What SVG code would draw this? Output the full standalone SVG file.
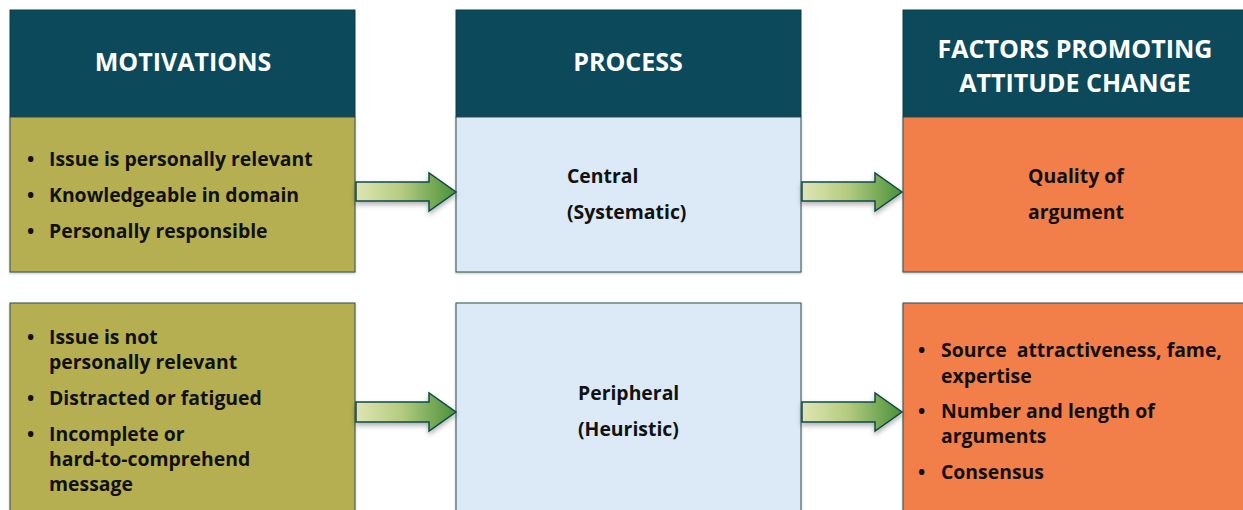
<svg xmlns="http://www.w3.org/2000/svg" width="1243" height="510" viewBox="0 0 1243 510">
<defs>
<linearGradient id="ag" x1="0" y1="0" x2="1" y2="0">
<stop offset="0" stop-color="#e0e5b4"/>
<stop offset="0.45" stop-color="#b5cc80"/>
<stop offset="1" stop-color="#4a9139"/>
</linearGradient>
<filter id="sh" x="-10%" y="-20%" width="120%" height="160%">
<feDropShadow dx="0" dy="3" stdDeviation="2.5" flood-color="#000" flood-opacity="0.3"/>
</filter>
<filter id="bs" x="-5%" y="-5%" width="110%" height="110%">
<feDropShadow dx="0" dy="1" stdDeviation="1" flood-color="#000" flood-opacity="0.25"/>
</filter>
</defs>
<style>
.hd{fill:#0c4a5b;stroke:#0a3d4c;stroke-width:1}
.ol{fill:#b5af51;stroke:#2f4f4f;stroke-width:1}
.lb{fill:#dbeaf6;stroke:#2f4f4f;stroke-width:1}
.or{fill:#f27e4a;stroke:#2f4f4f;stroke-width:1}
.ht{font-family:"Open Sans",sans-serif;font-weight:bold;font-size:25px;fill:#ffffff;text-anchor:middle}
.bt{font-family:"Open Sans",sans-serif;font-weight:bold;font-size:19.4px;fill:#111111}
.ar{fill:url(#ag);stroke:#0f4a4a;stroke-width:1.5;filter:url(#sh)}
</style>
<rect width="1243" height="510" fill="#ffffff"/>
<g id="motivations-header">
<rect class="hd" x="10" y="10" width="345" height="107"/>
<text class="ht" x="183" y="71">MOTIVATIONS</text>
</g>
<g id="motivations-central">
<rect class="ol" x="10" y="117" width="345" height="155" filter="url(#bs)"/>
<text class="bt" x="27" y="166">•</text><text class="bt" x="49" y="166">Issue is personally relevant</text>
<text class="bt" x="27" y="202">•</text><text class="bt" x="49" y="202">Knowledgeable in domain</text>
<text class="bt" x="27" y="238">•</text><text class="bt" x="49" y="238">Personally responsible</text>
</g>
<g id="motivations-peripheral">
<rect class="ol" x="10" y="303" width="345" height="215" filter="url(#bs)"/>
<text class="bt" x="27" y="344">•</text><text class="bt" x="49" y="344">Issue is not</text>
<text class="bt" x="49" y="369">personally relevant</text>
<text class="bt" x="27" y="405">•</text><text class="bt" x="49" y="405">Distracted or fatigued</text>
<text class="bt" x="27" y="441">•</text><text class="bt" x="49" y="441">Incomplete or</text>
<text class="bt" x="49" y="466">hard-to-comprehend</text>
<text class="bt" x="49" y="491">message</text>
</g>
<g id="process-header">
<rect class="hd" x="456" y="10" width="345" height="107"/>
<text class="ht" x="628" y="71">PROCESS</text>
</g>
<g id="process-central">
<rect class="lb" x="456" y="117" width="345" height="155" filter="url(#bs)"/>
<text class="bt" x="567" y="183">Central</text>
<text class="bt" x="567" y="219">(Systematic)</text>
</g>
<g id="process-peripheral">
<rect class="lb" x="456" y="303" width="345" height="215" filter="url(#bs)"/>
<text class="bt" x="578" y="400">Peripheral</text>
<text class="bt" x="578" y="436">(Heuristic)</text>
</g>
<g id="factors-header">
<rect class="hd" x="903" y="10" width="345" height="107"/>
<text class="ht" x="1075" y="58">FACTORS PROMOTING</text>
<text class="ht" x="1075" y="92">ATTITUDE CHANGE</text>
</g>
<g id="factors-central">
<rect class="or" x="903" y="117" width="345" height="155" filter="url(#bs)"/>
<text class="bt" x="1028" y="183">Quality of</text>
<text class="bt" x="1028" y="219">argument</text>
</g>
<g id="factors-peripheral">
<rect class="or" x="903" y="303" width="345" height="215" filter="url(#bs)"/>
<text class="bt" x="918" y="357">•</text><text class="bt" x="941" y="357">Source&#160; attractiveness, fame,</text>
<text class="bt" x="941" y="383">expertise</text>
<text class="bt" x="918" y="418">•</text><text class="bt" x="941" y="418">Number and length of</text>
<text class="bt" x="941" y="443">arguments</text>
<text class="bt" x="918" y="479">•</text><text class="bt" x="941" y="479">Consensus</text>
</g>
<g id="connectors">
<path class="ar" d="M356,182 H429 V173 L456,192 L429,211 V201 H356 Z"/>
<path class="ar" d="M356,402 H429 V393 L456,412 L429,431 V422 H356 Z"/>
<path class="ar" d="M802,182 H875 V173 L902,192 L875,211 V201 H802 Z"/>
<path class="ar" d="M802,402 H875 V393 L902,412 L875,431 V422 H802 Z"/>
</g>
</svg>
